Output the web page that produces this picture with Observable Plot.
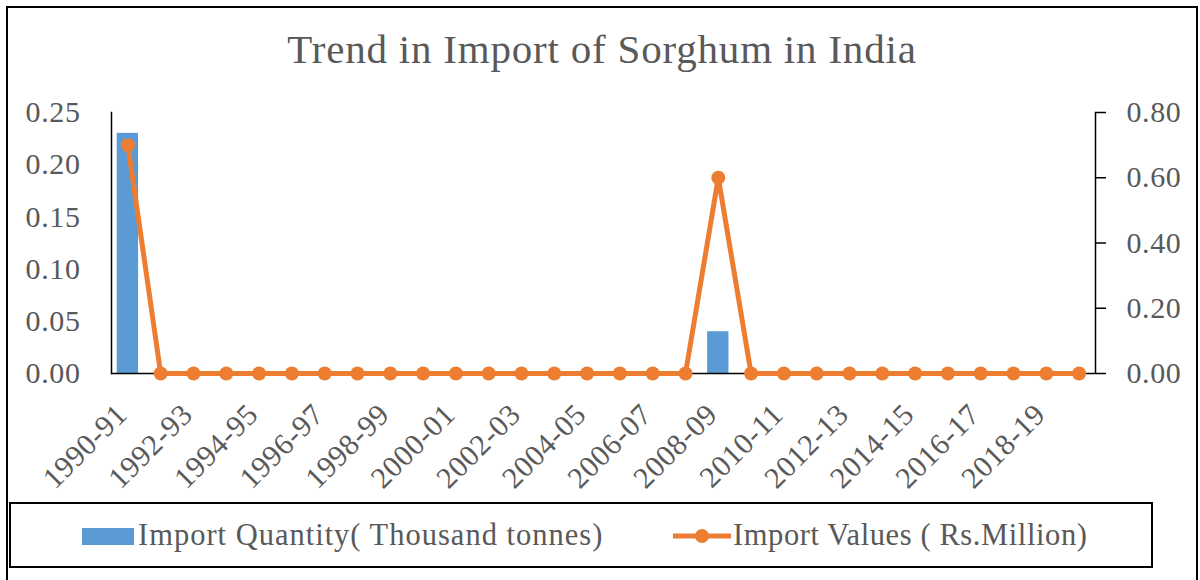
<!DOCTYPE html>
<html>
<head>
<meta charset="utf-8">
<script src="https://cdn.jsdelivr.net/npm/d3@7"></script>
<script src="https://cdn.jsdelivr.net/npm/@observablehq/plot@0.6"></script>
<style>
  html, body { margin: 0; padding: 0; background: #fff; overflow: hidden; }
  #wrap { position: relative; width: 1200px; height: 580px; font-family: "Liberation Serif", "DejaVu Serif", serif; color: #595959; }
  #frame { position: absolute; left: 6px; top: 6px; width: 1188px; height: 640px; border: 2px solid #000; }
  #title { position: absolute; left: 0; width: 1204px; top: 25px; text-align: center; font-size: 41px; letter-spacing: 0.8px; line-height: 48px; color: #595959; }
  #chart { position: absolute; left: 0; top: 0; }
  #legend { position: absolute; left: 9px; top: 502px; width: 1140px; height: 62px; border: 2px solid #000; background: #fff; }
  .li { position: absolute; top: 13px; font-size: 30.5px; letter-spacing: 1px; line-height: 36px; white-space: nowrap; color: #595959; }
  .sw { display: inline-block; vertical-align: middle; }
  #chart text { letter-spacing: 0.6px; }
</style>
</head>
<body>
<div id="wrap">
  <div id="frame"></div>
  <div id="title">Trend in Import of Sorghum in India</div>
  <div id="chart"></div>
  <div id="legend"></div>
</div>
<script>
const years = ["1990-91","1991-92","1992-93","1993-94","1994-95","1995-96","1996-97","1997-98","1998-99","1999-00",
  "2000-01","2001-02","2002-03","2003-04","2004-05","2005-06","2006-07","2007-08","2008-09","2009-10",
  "2010-11","2011-12","2012-13","2013-14","2014-15","2015-16","2016-17","2017-18","2018-19","2019-20"];
const quantity = [0.23,0,0,0,0,0,0,0,0,0,0,0,0,0,0,0,0,0,0.04,0,0,0,0,0,0,0,0,0,0,0];
const values   = [0.70,0,0,0,0,0,0,0,0,0,0,0,0,0,0,0,0,0,0.60,0,0,0,0,0,0,0,0,0,0,0];
const leftTicks = [0, 0.05, 0.10, 0.15, 0.20, 0.25];
const rightTicks = [0, 0.20, 0.40, 0.60, 0.80];
const xTickLabels = years.filter((d, i) => i % 2 === 0);
const seriesNames = ["Import Quantity( Thousand tonnes)", "Import Values ( Rs.Million)"];
const colors = ["#5B9BD5", "#ED7D31"];

const leftMax = 0.25, rightMax = 0.80;
const k = leftMax / rightMax;
const barData = years.map((y, i) => ({year: y, q: quantity[i]}));
const lineData = years.map((y, i) => ({year: y, v: values[i] * k}));

const plot = Plot.plot({
  width: 1200,
  height: 500,
  marginLeft: 111,
  marginRight: 105,
  marginTop: 112,
  marginBottom: 127,
  style: {fontFamily: "Liberation Serif, serif", fontSize: "30px", color: "#595959", background: "transparent"},
  x: {domain: years, paddingInner: 0.35, paddingOuter: 0.175, round: false, label: null},
  y: {domain: [0, leftMax], label: null},
  marks: [
    Plot.barY(barData, {x: "year", y: "q", fill: colors[0]}),
    Plot.ruleY([0], {stroke: "#000", strokeWidth: 1.5}),
    Plot.frame({anchor: "left", stroke: "#000", strokeWidth: 1.5}),
    Plot.frame({anchor: "right", stroke: "#000", strokeWidth: 1.5}),
    Plot.axisY(leftTicks, {anchor: "left", tickSize: 0, tickPadding: 31, tickFormat: d => d.toFixed(2), fill: "#595959", label: null}),
    Plot.axisY(rightTicks.map(d => d * k), {anchor: "right", tickSize: 10, tickPadding: 21, stroke: "#000", strokeWidth: 1.5, tickFormat: d => (d / k).toFixed(2), fill: "#595959", label: null}),
    Plot.axisX(xTickLabels, {anchor: "bottom", tickSize: 0, tickRotate: -45, tickPadding: 36, dx: -6, fill: "#595959", label: null}),
    Plot.line(lineData, {x: "year", y: "v", stroke: colors[1], strokeWidth: 5}),
    Plot.dot(lineData, {x: "year", y: "v", r: 7, fill: colors[1], stroke: "none"})
  ]
});
document.getElementById("chart").appendChild(plot);

const legend = document.getElementById("legend");
legend.innerHTML = `
  <div class="li" style="left:71px"><span class="sw" style="width:52px;height:17px;background:${colors[0]};margin-right:4px;margin-top:-4px"></span>${seriesNames[0]}</div>
  <div class="li" style="left:662px;letter-spacing:0.6px"><svg class="sw" width="58" height="18" style="margin-right:2px;margin-top:-4px"><line x1="0" x2="58" y1="9" y2="9" stroke="${colors[1]}" stroke-width="5"/><circle cx="29" cy="9" r="7" fill="${colors[1]}"/></svg>${seriesNames[1]}</div>`;
</script>
</body>
</html>
